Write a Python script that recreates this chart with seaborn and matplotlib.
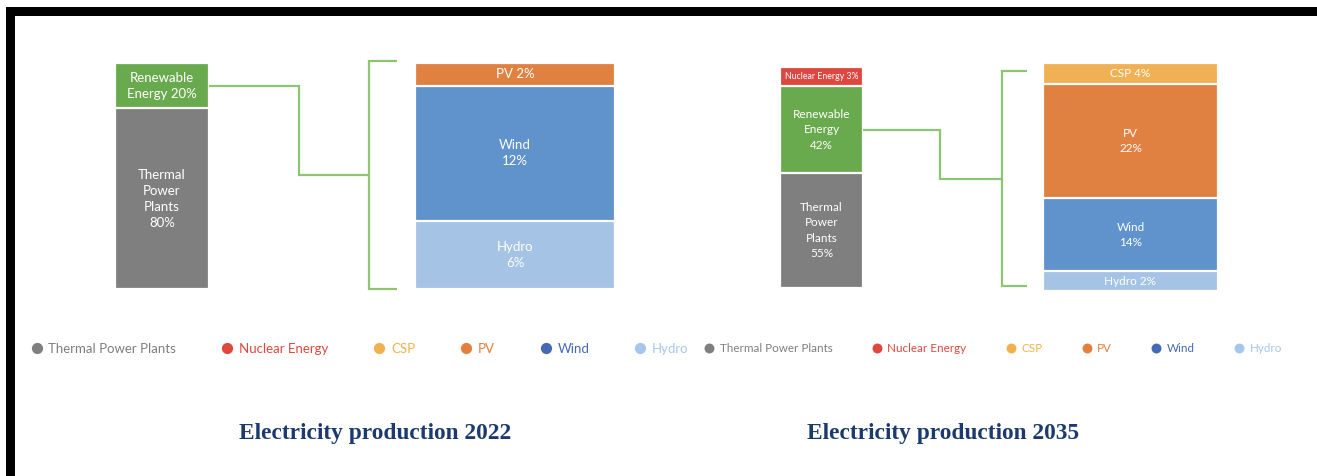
import numpy as np
import pandas as pd
import matplotlib
matplotlib.use("Agg")
import matplotlib.pyplot as plt
from matplotlib.lines import Line2D
from matplotlib.patches import Rectangle
import seaborn as sns

# ---------------- data ----------------
mix_2022 = ["Renewable Energy", "Thermal Power Plants"]
mix_2022_vals = [20, 80]
mix_2022_text = ["Renewable\nEnergy {}%", "Thermal\nPower\nPlants\n{}%"]

ren_2022 = ["PV", "Wind", "Hydro"]
ren_2022_vals = [2, 12, 6]
ren_2022_text = ["PV {}%", "Wind\n{}%", "Hydro\n{}%"]

mix_2035 = ["Nuclear Energy", "Renewable Energy", "Thermal Power Plants"]
mix_2035_vals = [3, 42, 55]
mix_2035_text = ["Nuclear Energy {}%", "Renewable\nEnergy\n{}%", "Thermal\nPower\nPlants\n{}%"]

ren_2035 = ["CSP", "PV", "Wind", "Hydro"]
ren_2035_vals = [4, 22, 14, 2]
ren_2035_text = ["CSP {}%", "PV\n{}%", "Wind\n{}%", "Hydro {}%"]

legend_labels = ["Thermal Power Plants", "Nuclear Energy", "CSP", "PV", "Wind", "Hydro"]
titles = ["Electricity production 2022", "Electricity production 2035"]

# ---------------- styles ----------------
bar_colors = {
    "Thermal Power Plants": "#7f7f7f",
    "Nuclear Energy": "#de4640",
    "Renewable Energy": "#6aaa4e",
    "CSP": "#f0b154",
    "PV": "#e08141",
    "Wind": "#6093cb",
    "Hydro": "#a5c3e5",
}
legend_colors = {
    "Thermal Power Plants": "#7f7f7f",
    "Nuclear Energy": "#e0473e",
    "CSP": "#f2b04e",
    "PV": "#e3803d",
    "Wind": "#4569b5",
    "Hydro": "#a6c6eb",
}
line_green = "#8dc572"
title_color = "#1c3a6e"

sns.set_theme(style="white")
plt.rcParams["font.family"] = ["Lato", "DejaVu Sans"]

W, H = 1317, 476
fig = plt.figure(figsize=(W / 100, H / 100), dpi=100)
fig.patch.set_facecolor("white")


def fx(x):
    return x / W


def fy(y):
    return 1 - y / H


def px_axes(x0, y0, x1, y1):
    return fig.add_axes([fx(x0), fy(y1), (x1 - x0) / W, (y1 - y0) / H])


def draw_stack(ax, names, vals, texts, sizes, lsp, floor_frac=0.09):
    vals = np.asarray(vals, float)
    disp = np.maximum(vals, floor_frac * vals.sum())
    cum = np.cumsum(disp)
    df = pd.DataFrame({"seg": names, "val": vals, "disp": disp, "cum": cum})
    for i in range(len(df) - 1, -1, -1):
        sns.barplot(x=["s"], y=[df.cum[i]], color=bar_colors[df.seg[i]],
                    saturation=1, width=1, errorbar=None,
                    edgecolor="white", linewidth=1.6, ax=ax)
    for i in range(len(df)):
        ax.text(0, df.cum[i] - df.disp[i] / 2, texts[i].format(int(df.val[i])),
                ha="center", va="center", color="white", fontsize=sizes[i],
                linespacing=lsp)
    ax.set_xlim(-0.5, 0.5)
    ax.set_ylim(cum[-1], 0)
    ax.axis("off")
    return df


def connector(ax, df, x_elbow, x_br, y_top, y_bot, x_tick):
    i = list(df.seg).index("Renewable Energy")
    yc = df.cum[i] - df.disp[i] / 2
    p = ax.transData.transform((0.5, yc))
    x0, y0 = p[0], H - p[1]
    ym = (y_top + y_bot) / 2
    kw = dict(color=line_green, lw=1.6, transform=fig.transFigure,
              solid_joinstyle="miter", solid_capstyle="butt")
    fig.add_artist(Line2D([fx(x0), fx(x_elbow), fx(x_elbow), fx(x_br)],
                          [fy(y0), fy(y0), fy(ym), fy(ym)], **kw))
    fig.add_artist(Line2D([fx(x_tick), fx(x_br), fx(x_br), fx(x_tick)],
                          [fy(y_top), fy(y_top), fy(y_bot), fy(y_bot)], **kw))


# panel 2022
ax1 = px_axes(115, 63, 209, 289)
df1 = draw_stack(ax1, mix_2022, mix_2022_vals, mix_2022_text, [9.5, 9.5], 1.4)
ax2 = px_axes(415, 63, 615, 289)
draw_stack(ax2, ren_2022, ren_2022_vals, ren_2022_text, [9.5, 9.5, 9.5], 1.4)
connector(ax1, df1, 299, 369, 61, 289, 397)

# panel 2035
ax3 = px_axes(780, 67, 863, 288)
df3 = draw_stack(ax3, mix_2035, mix_2035_vals, mix_2035_text, [6.3, 8.5, 8.5], 1.5)
ax4 = px_axes(1043, 63, 1218, 291)
draw_stack(ax4, ren_2035, ren_2035_vals, ren_2035_text, [8.5, 8.5, 8.5, 8.5], 1.5)
connector(ax3, df3, 940, 1002, 71, 286, 1027)

# legends
def add_legend(x_left, y_c, fs, colspace):
    handles = [Line2D([], [], marker="o", ls="none", markersize=fs * 0.85,
                      markerfacecolor=legend_colors[l], markeredgewidth=0)
               for l in legend_labels]
    leg = fig.legend(handles, legend_labels, loc="center left",
                     bbox_to_anchor=(fx(x_left), fy(y_c)), ncol=6, frameon=False,
                     fontsize=fs, handlelength=0.7, handletextpad=0.55,
                     columnspacing=colspace, borderpad=0, borderaxespad=0)
    for t, l in zip(leg.get_texts(), legend_labels):
        t.set_color(legend_colors[l])
    return leg

add_legend(32, 349, 9.5, 3.5)
add_legend(705, 349, 8.4, 3.45)

# titles
for xc, t in zip([375, 943], titles):
    fig.text(fx(xc), fy(434), t, ha="center", va="center", color=title_color,
             fontsize=16.8, fontweight="bold", family="Liberation Serif")

# black frame (top and left)
fig.add_artist(Rectangle((fx(6), fy(16)), fx(W - 6), (16 - 7) / H,
                         transform=fig.transFigure, color="black", lw=0))
fig.add_artist(Rectangle((fx(6), 0), fx(9), fy(7),
                         transform=fig.transFigure, color="black", lw=0))

fig.savefig("out.png", dpi=100, facecolor="white")
